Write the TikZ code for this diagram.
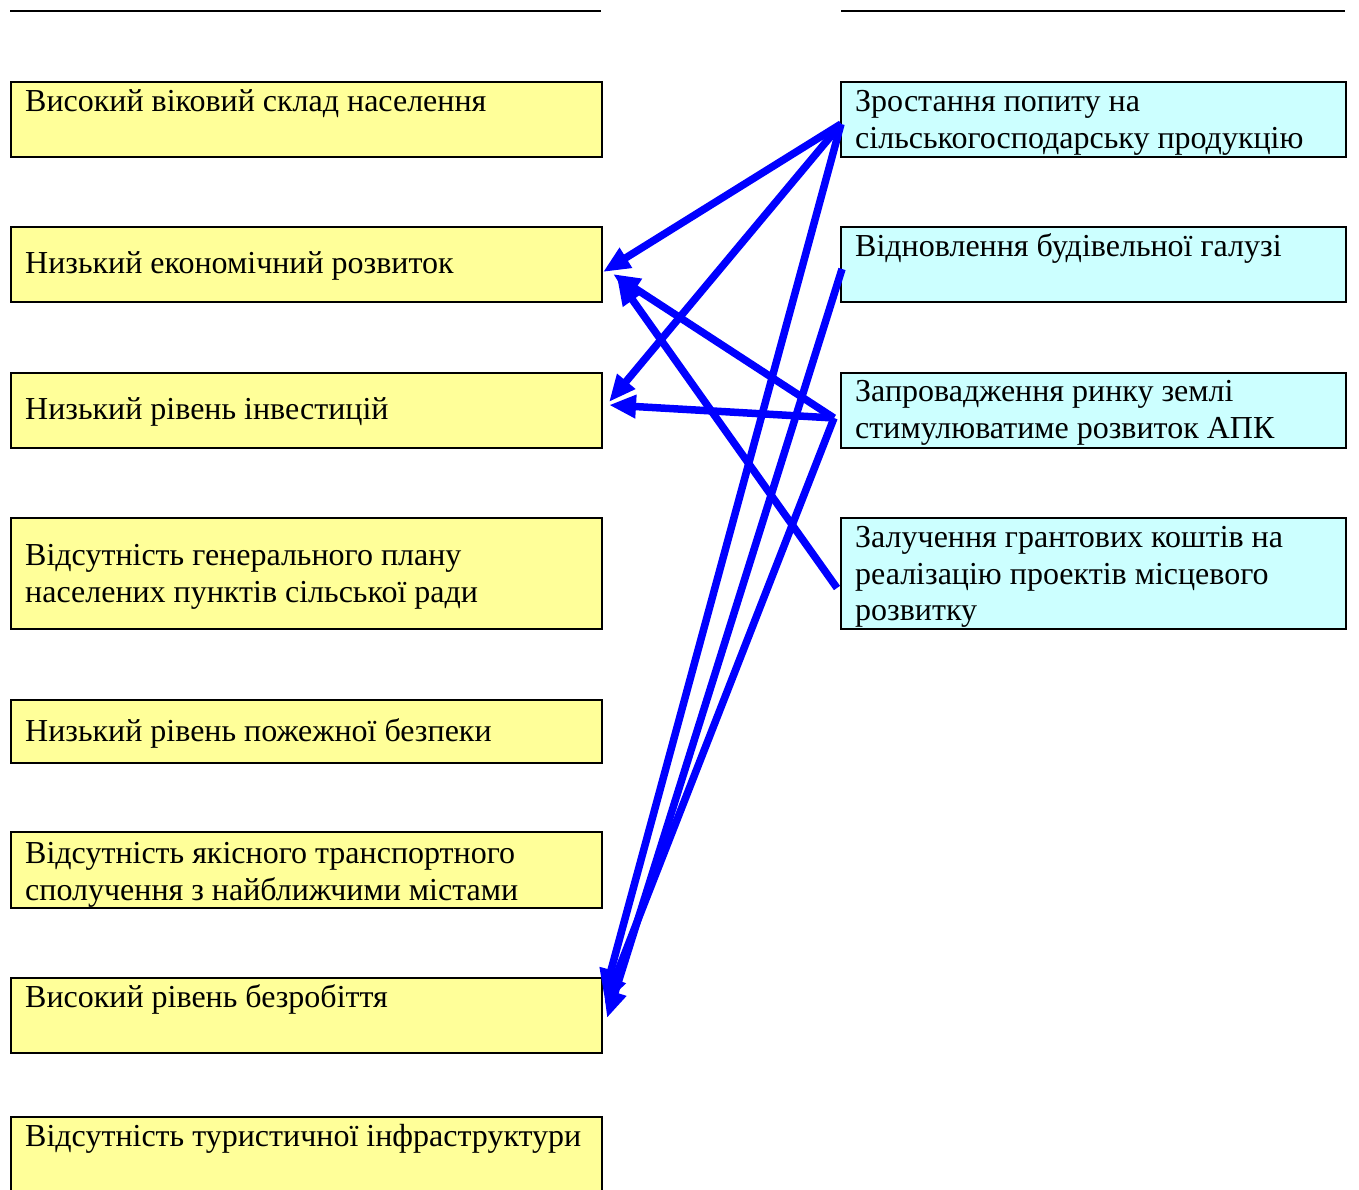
\documentclass[tikz,border=0pt]{standalone}
\usepackage{fontspec}
\setmainfont{Liberation Serif}
\usetikzlibrary{arrows.meta}
\definecolor{boxyellow}{HTML}{FFFF99}
\definecolor{boxcyan}{HTML}{CCFFFF}
\definecolor{arrowblue}{HTML}{0000FF}
\begin{document}
\begin{tikzpicture}[x=1pt,y=-1pt,
  basebox/.style={draw=black,line width=2pt,rectangle,inner sep=0pt,anchor=north west},
  leftbox/.style={basebox,fill=boxyellow,minimum width=591pt},
  rightbox/.style={basebox,fill=boxcyan,minimum width=505pt},
  lbl/.style={inner sep=0pt,anchor=base west,align=left,font=\fontsize{32}{37}\selectfont},
  conn/.style={draw=arrowblue,line width=7.5pt,-{Triangle[length=27pt,width=22pt]}},
  rule/.style={draw=black,line width=2pt}]
\useasboundingbox (0,0) rectangle (1359,1189);
\clip (0,0) rectangle (1359,1189);
% header rules
\coordinate (hl1) at (10,11);
\coordinate (hl2) at (601,11);
\coordinate (hr1) at (841,11);
\coordinate (hr2) at (1345,11);
\draw[rule] (hl1) -- (hl2);
\draw[rule] (hr1) -- (hr2);
% left boxes
\node[leftbox,minimum height=75pt] (l1) at (10,81) {};
\node[leftbox,minimum height=75pt] (l2) at (10,226) {};
\node[leftbox,minimum height=75pt] (l3) at (10,372) {};
\node[leftbox,minimum height=111pt] (l4) at (10,517) {};
\node[leftbox,minimum height=63pt] (l5) at (10,699) {};
\node[leftbox,minimum height=76pt] (l6) at (10,831) {};
\node[leftbox,minimum height=75pt] (l7) at (10,977) {};
\node[leftbox,minimum height=110pt] (l8) at (10,1116) {};
% right boxes
\node[rightbox,minimum height=75pt] (r1) at (840,81) {};
\node[rightbox,minimum height=75pt] (r2) at (840,226) {};
\node[rightbox,minimum height=75pt] (r3) at (840,372) {};
\node[rightbox,minimum height=111pt] (r4) at (840,517) {};
% left texts
\node[lbl] (t1) at (25,111) {Високий віковий склад населення};
\node[lbl] (t2) at (25,273) {Низький економічний розвиток};
\node[lbl] (t3) at (25,419) {Низький рівень інвестицій};
\node[lbl] (t4a) at (25,565) {Відсутність генерального плану};
\node[lbl] (t4b) at (25,602) {населених пунктів сільської ради};
\node[lbl] (t5) at (25,741) {Низький рівень пожежної безпеки};
\node[lbl] (t6a) at (25,863) {Відсутність якісного транспортного};
\node[lbl] (t6b) at (25,900) {сполучення з найближчими містами};
\node[lbl] (t7) at (25,1007) {Високий рівень безробіття};
\node[lbl] (t8) at (25,1146) {Відсутність туристичної інфраструктури};
% right texts
\node[lbl] (u1a) at (855,111) {Зростання попиту на};
\node[lbl] (u1b) at (855,148) {сільськогосподарську продукцію};
\node[lbl] (u2) at (855,256) {Відновлення будівельної галузі};
\node[lbl] (u3a) at (855,401) {Запровадження ринку землі};
\node[lbl] (u3b) at (855,438) {стимулюватиме розвиток АПК};
\node[lbl] (u4a) at (855,547) {Залучення грантових коштів на};
\node[lbl] (u4b) at (855,584) {реалізацію проектів місцевого};
\node[lbl] (u4c) at (855,620) {розвитку};
% connectors
\draw[conn] ([xshift=1pt,yshift=-4.5pt]r1.west) -- ([yshift=-7.5pt]l2.east);
\draw[conn] ([xshift=1pt,yshift=-4.5pt]r1.west) -- ([xshift=6pt,yshift=8.5pt]l3.east);
\draw[conn] ([xshift=1pt,yshift=-4.5pt]r1.west) -- ([xshift=1pt,yshift=19.5pt]l7.east);
\draw[conn] ([xshift=2pt,yshift=-4.5pt]r2.west) -- ([xshift=4pt,yshift=-2.5pt]l7.east);
\draw[conn] ([xshift=-6pt,yshift=-7.5pt]r3.west) -- ([xshift=10pt,yshift=-9.5pt]l2.east);
\draw[conn] ([xshift=-6pt,yshift=-7.5pt]r3.west) -- ([xshift=6pt,yshift=5.5pt]l3.east);
\draw[conn] ([xshift=-6pt,yshift=-7.5pt]r3.west) -- ([xshift=2pt,yshift=11.5pt]l7.east);
\draw[conn] ([xshift=-3pt,yshift=-14.5pt]r4.west) -- ([xshift=14pt,yshift=-13.5pt]l2.east);
\end{tikzpicture}
\end{document}
